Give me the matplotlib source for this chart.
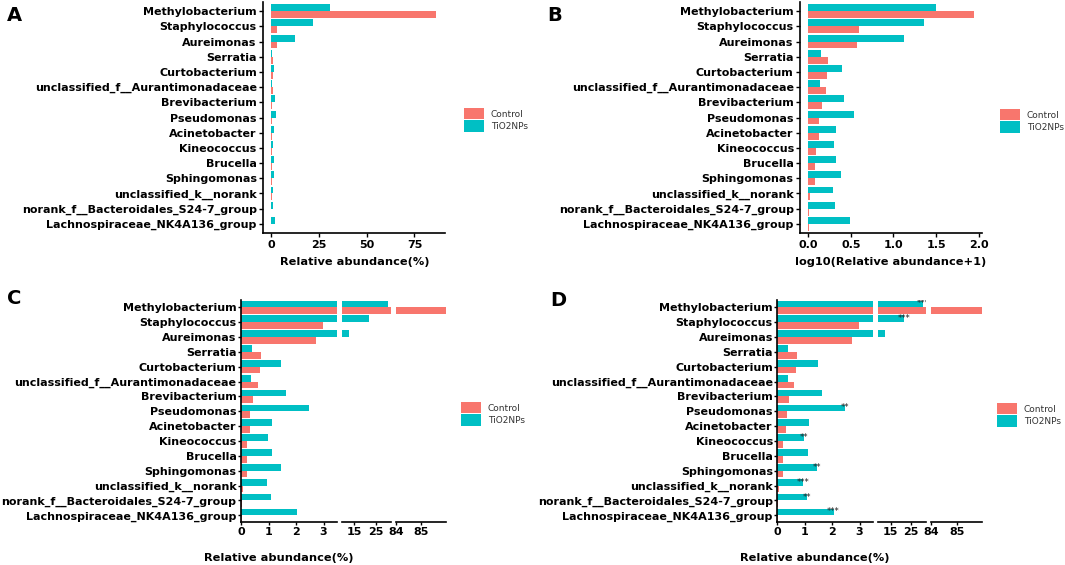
import numpy as np
import matplotlib
matplotlib.use('Agg')
import matplotlib.pyplot as plt
from matplotlib.patches import Patch

# ---------------- data ----------------
genera = ['Methylobacterium', 'Staphylococcus', 'Aureimonas', 'Serratia',
          'Curtobacterium', 'unclassified_f__Aurantimonadaceae', 'Brevibacterium',
          'Pseudomonas', 'Acinetobacter', 'Kineococcus', 'Brucella', 'Sphingomonas',
          'unclassified_k__norank', 'norank_f__Bacteroidales_S24-7_group',
          'Lachnospiraceae_NK4A136_group']
control = [86.5, 2.97, 2.74, 0.72, 0.68, 0.62, 0.44, 0.34, 0.32, 0.22, 0.20, 0.20, 0.06, 0.03, 0.02]
tio2 = [30.6, 21.6, 12.2, 0.40, 1.47, 0.38, 1.64, 2.46, 1.14, 0.98, 1.13, 1.45, 0.95, 1.08, 2.05]
signif = ['***', '***', '', '', '', '', '', '**', '', '**', '', '**', '***', '**', '***']
groups = ['Control', 'TiO2NPs']
colors = {'Control': '#F8766D', 'TiO2NPs': '#00BFC4'}
seg_ranges = [(0, 3.5), (9, 32), (84, 86)]
seg_ticks = [[0, 1, 2, 3], [15, 25], [84, 85]]
a_ticks = [0, 25, 50, 75]
b_ticks = [0.0, 0.5, 1.0, 1.5, 2.0]

plt.rcParams['font.family'] = ['DejaVu Sans']
plt.rcParams['font.weight'] = 'bold'

W, H = 1065, 565
fig = plt.figure(figsize=(W / 100, H / 100), dpi=100)


def px_axes(l, t, r, b):
    return fig.add_axes([l / W, 1 - b / H, (r - l) / W, (b - t) / H])


n = len(genera)
ypos = np.arange(n, 0, -1)
bh = 0.45


def bars(ax, c, t):
    ax.barh(ypos + bh / 2, t, height=bh, color=colors['TiO2NPs'], linewidth=0)
    ax.barh(ypos - bh / 2, c, height=bh, color=colors['Control'], linewidth=0)


def style(ax, left=True, tl=3.0, pad=1.5):
    ax.spines['top'].set_visible(False)
    ax.spines['right'].set_visible(False)
    ax.spines['bottom'].set_linewidth(1.2)
    ax.spines['left'].set_linewidth(1.2)
    ax.tick_params(axis='both', length=tl, width=1.0, labelsize=8, colors='black')
    ax.tick_params(axis='y', pad=pad)
    ax.tick_params(axis='x', pad=2)
    if left:
        ax.set_yticks(ypos)
        ax.set_yticklabels(genera)
    else:
        ax.spines['left'].set_visible(False)
        ax.set_yticks([])


def legend(x, y):
    handles = [Patch(facecolor=colors[g], edgecolor='none') for g in groups]
    fig.legend(handles, groups, loc='upper left', bbox_to_anchor=(x / W, 1 - y / H),
               frameon=False, prop={'weight': 'normal', 'size': 6.5},
               handlelength=2.2, handleheight=1.55, labelspacing=0.1,
               handletextpad=0.75, borderpad=0, borderaxespad=0, labelcolor='#333333')


# ---------------- Panel A ----------------
axA = px_axes(263, 2, 445, 233)
bars(axA, control, tio2)
axA.set_xlim(-4.4, 91)
axA.set_ylim(0.4, n + 0.6)
style(axA)
axA.set_xticks(a_ticks)
fig.text(354.5 / W, 1 - 262 / H, 'Relative abundance(%)', ha='center', va='center', fontsize=8.2)
legend(464, 108)
fig.text(7 / W, 1 - 21 / H, 'A', fontsize=14, ha='left', va='baseline')

# ---------------- Panel B ----------------
axB = px_axes(800, 2, 982, 233)
bars(axB, np.log10(np.array(control) + 1), np.log10(np.array(tio2) + 1))
axB.set_xlim(-0.097, 2.04)
axB.set_ylim(0.4, n + 0.6)
style(axB)
axB.set_xticks(b_ticks)
axB.set_xticklabels([f'{v:.1f}' for v in b_ticks])
fig.text(891 / W, 1 - 262 / H, 'log10(Relative abundance+1)', ha='center', va='center', fontsize=8.2)
legend(1000, 109)
fig.text(547 / W, 1 - 21 / H, 'B', fontsize=14, ha='left', va='baseline')


# ---------------- Panels C and D (broken axis) ----------------
def broken(segs_px, top, bottom, stars):
    axes = []
    for k, (l, r) in enumerate(segs_px):
        ax = px_axes(l, top, r, bottom)
        bars(ax, control, tio2)
        ax.set_xlim(*seg_ranges[k])
        ax.set_ylim(0.57, n + 0.49)
        style(ax, left=(k == 0), tl=2.2, pad=1)
        ax.tick_params(axis='x', pad=1.5)
        ax.set_xticks(seg_ticks[k])
        axes.append(ax)
    if stars:
        for i, s in enumerate(signif):
            if not s:
                continue
            v = tio2[i]
            for k, ax in enumerate(axes):
                lo, hi = seg_ranges[k]
                if lo <= v <= hi:
                    ax.text(v, ypos[i] + bh / 2, s, ha='center', va='center', fontsize=6,
                            fontweight='normal', color='#222222', clip_on=True)
    return axes


broken([(241, 337.3), (341.7, 390.7), (395.7, 445.8)], 300, 521.7, False)
fig.text(278.8 / W, 1 - 558 / H, 'Relative abundance(%)', ha='center', va='center', fontsize=8.2)
legend(461, 402)
fig.text(7 / W, 1 - 304 / H, 'C', fontsize=14, ha='left', va='baseline')

broken([(777.3, 873.3), (878.3, 925.7), (931.3, 982)], 300, 521.7, True)
fig.text(815.2 / W, 1 - 558 / H, 'Relative abundance(%)', ha='center', va='center', fontsize=8.2)
legend(997, 403)
fig.text(550 / W, 1 - 306 / H, 'D', fontsize=14, ha='left', va='baseline')

fig.savefig('out.png', dpi=100)
